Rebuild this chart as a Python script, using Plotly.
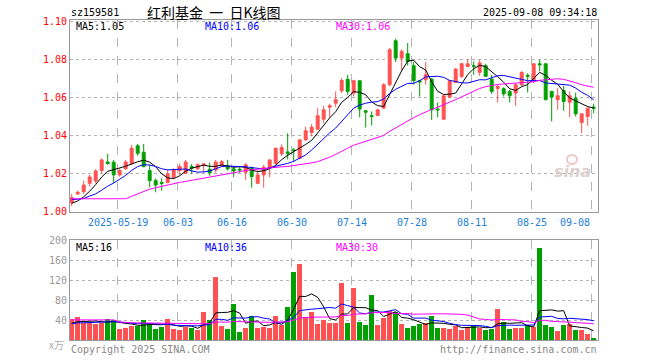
import numpy as np
import plotly.graph_objects as go

# ---------------- data ----------------
opens = [1.0047, 1.0093, 1.0105, 1.0149, 1.0161, 1.0216, 1.0261, 1.0260, 1.0193, 1.0226,
         1.0254, 1.0346, 1.0312, 1.0216, 1.0163, 1.0153, 1.0153, 1.0181, 1.0216, 1.0202,
         1.0237, 1.0226, 1.0244, 1.0223, 1.0219, 1.0244, 1.0242, 1.0225, 1.0223, 1.0207,
         1.0232, 1.0149, 1.0193, 1.0233, 1.0254, 1.0304, 1.0314, 1.0325, 1.0281, 1.0377,
         1.0416, 1.0433, 1.0486, 1.0549, 1.0570, 1.0635, 1.0696, 1.0623, 1.0688, 1.0530,
         1.0504, 1.0505, 1.0544, 1.0667, 1.0898, 1.0807, 1.0830, 1.0767, 1.0688, 1.0693,
         1.0696, 1.0539, 1.0486, 1.0602, 1.0679, 1.0711, 1.0763, 1.0767, 1.0732, 1.0767,
         1.0696, 1.0647, 1.0646, 1.0632, 1.0623, 1.0667, 1.0716, 1.0693, 1.0777, 1.0777,
         1.0632, 1.0588, 1.0637, 1.0575, 1.0596, 1.0468, 1.0500, 1.0549]
highs = [1.0093, 1.0110, 1.0163, 1.0193, 1.0223, 1.0280, 1.0304, 1.0272, 1.0228, 1.0272,
         1.0351, 1.0356, 1.0356, 1.0246, 1.0175, 1.0175, 1.0219, 1.0228, 1.0254, 1.0272,
         1.0251, 1.0254, 1.0253, 1.0258, 1.0272, 1.0272, 1.0272, 1.0237, 1.0237, 1.0254,
         1.0237, 1.0216, 1.0246, 1.0275, 1.0337, 1.0354, 1.0412, 1.0333, 1.0381, 1.0447,
         1.0461, 1.0544, 1.0556, 1.0567, 1.0632, 1.0702, 1.0719, 1.0693, 1.0688, 1.0535,
         1.0526, 1.0539, 1.0675, 1.0860, 1.0909, 1.0854, 1.0886, 1.0786, 1.0688, 1.0786,
         1.0702, 1.0574, 1.0612, 1.0688, 1.0754, 1.0781, 1.0802, 1.0789, 1.0798, 1.0777,
         1.0719, 1.0667, 1.0654, 1.0640, 1.0675, 1.0737, 1.0728, 1.0777, 1.0798, 1.0777,
         1.0632, 1.0649, 1.0661, 1.0632, 1.0626, 1.0514, 1.0544, 1.0567]
lows = [1.0030, 1.0088, 1.0093, 1.0132, 1.0149, 1.0202, 1.0246, 1.0149, 1.0184, 1.0219,
        1.0246, 1.0293, 1.0233, 1.0128, 1.0102, 1.0110, 1.0149, 1.0170, 1.0193, 1.0198,
        1.0198, 1.0219, 1.0205, 1.0188, 1.0205, 1.0237, 1.0216, 1.0181, 1.0205, 1.0167,
        1.0126, 1.0146, 1.0126, 1.0181, 1.0246, 1.0293, 1.0275, 1.0263, 1.0275, 1.0374,
        1.0395, 1.0430, 1.0465, 1.0496, 1.0549, 1.0623, 1.0614, 1.0605, 1.0496, 1.0442,
        1.0453, 1.0504, 1.0539, 1.0658, 1.0786, 1.0740, 1.0767, 1.0667, 1.0605, 1.0667,
        1.0482, 1.0496, 1.0482, 1.0596, 1.0675, 1.0702, 1.0763, 1.0719, 1.0714, 1.0711,
        1.0618, 1.0574, 1.0605, 1.0574, 1.0556, 1.0661, 1.0626, 1.0675, 1.0737, 1.0588,
        1.0474, 1.0535, 1.0530, 1.0496, 1.0500, 1.0412, 1.0451, 1.0518]
closes = [1.0074, 1.0102, 1.0140, 1.0182, 1.0214, 1.0272, 1.0253, 1.0193, 1.0216, 1.0261,
          1.0333, 1.0307, 1.0237, 1.0163, 1.0140, 1.0149, 1.0198, 1.0219, 1.0237, 1.0261,
          1.0228, 1.0246, 1.0251, 1.0205, 1.0261, 1.0263, 1.0225, 1.0214, 1.0219, 1.0246,
          1.0184, 1.0193, 1.0233, 1.0272, 1.0333, 1.0337, 1.0307, 1.0321, 1.0377, 1.0425,
          1.0444, 1.0504, 1.0535, 1.0556, 1.0588, 1.0689, 1.0632, 1.0688, 1.0539, 1.0523,
          1.0500, 1.0535, 1.0667, 1.0851, 1.0807, 1.0842, 1.0789, 1.0689, 1.0682, 1.0719,
          1.0535, 1.0535, 1.0609, 1.0688, 1.0749, 1.0777, 1.0777, 1.0763, 1.0781, 1.0711,
          1.0632, 1.0658, 1.0619, 1.0609, 1.0667, 1.0732, 1.0711, 1.0777, 1.0772, 1.0588,
          1.0602, 1.0609, 1.0579, 1.0609, 1.0514, 1.0514, 1.0544, 1.0544]
volumes = [42, 47, 34, 34, 33, 35, 42, 41, 23, 25, 29, 29, 41, 32, 23, 27, 43, 23, 21, 27,
           25, 21, 57, 41, 127, 29, 23, 73, 17, 25, 49, 25, 27, 25, 49, 31, 67, 137, 153, 47,
           57, 33, 41, 35, 35, 115, 35, 105, 37, 31, 91, 31, 45, 59, 57, 33, 25, 29, 33, 35,
           49, 25, 25, 23, 29, 21, 27, 29, 25, 21, 23, 63, 37, 23, 25, 25, 31, 27, 185, 31,
           27, 19, 31, 33, 21, 21, 13, 3]
# earlier sessions (off-chart), estimated so the moving averages start where the reference does
hist_closes = [1.010, 1.014, 1.018, 1.021, 1.027, 1.025, 1.019, 1.022, 1.026,
               0.995, 0.993, 0.986, 0.979, 0.9915, 0.9925, 0.997, 0.999,
               1.008, 1.010, 1.007, 1.009, 1.009, 1.005, 1.010, 1.008,
               1.004, 1.003, 1.0035, 1.004]
hist_volumes = [47, 34, 34, 33, 35, 42, 41, 150, 60, 37, 37, 48, 40, 31, 35, 50, 31, 29,
                35, 33, 29, 32, 32, 32, 32, 32, 32, 32, 30]

tick_index = [8, 18, 27, 37, 47, 57, 67, 77, 87]
tick_labels = ["2025-05-19", "06-03", "06-16", "06-30", "07-14", "07-28", "08-11", "08-25", "09-08"]
price_ticks = [1.00, 1.02, 1.04, 1.06, 1.08, 1.10]
vol_ticks = [40, 80, 120, 160, 200]
price_legend = ["MA5:1.05", "MA10:1.06", "MA30:1.06"]
vol_legend = ["MA5:16", "MA10:36", "MA30:30"]
ma_periods = [5, 10, 30]
ma_colors = ["#000000", "#0000ff", "#ff00ff"]

UP = "#ff5151"
DOWN = "#00a000"
MONO = "DejaVu Sans Mono"

n = len(closes)
x = list(range(n))


def moving_average(hist, vals, p):
    full = np.array(list(hist) + list(vals), dtype=float)
    out = np.convolve(full, np.ones(p) / p, mode="valid")
    return out[-len(vals):]


fig = go.Figure()

fig.add_trace(go.Candlestick(
    x=x, open=opens, high=highs, low=lows, close=closes,
    increasing=dict(line=dict(color=UP, width=1), fillcolor=UP),
    decreasing=dict(line=dict(color=DOWN, width=1), fillcolor=DOWN),
    whiskerwidth=0, xaxis="x", yaxis="y", hoverinfo="skip"))

for p, c in zip(ma_periods, ma_colors):
    fig.add_trace(go.Scatter(x=x, y=moving_average(hist_closes, closes, p), mode="lines",
                             line=dict(color=c, width=1), xaxis="x", yaxis="y",
                             hoverinfo="skip"))

bar_colors = [UP if c >= o else DOWN for o, c in zip(opens, closes)]
fig.add_trace(go.Bar(x=x, y=volumes, marker=dict(color=bar_colors, line=dict(width=0)),
                     width=0.83, xaxis="x2", yaxis="y2", hoverinfo="skip"))
for p, c in zip(ma_periods, ma_colors):
    fig.add_trace(go.Scatter(x=x, y=moving_average(hist_volumes, volumes, p), mode="lines",
                             line=dict(color=c, width=1), xaxis="x2", yaxis="y2",
                             hoverinfo="skip"))

xr = [-0.28, n - 0.28]
grid_x = [i - 0.33 for i in tick_index]
common_x = dict(range=xr, tickmode="array", tickvals=grid_x, showticklabels=False,
                showgrid=True, gridcolor="#b4b4b4", griddash="dash", gridwidth=1,
                showline=True, linecolor="#999999", linewidth=1, mirror=True,
                zeroline=False, ticks="", fixedrange=True)

fig.update_layout(
    width=660, height=360,
    margin=dict(l=70, r=62, t=20, b=20),
    paper_bgcolor="white", plot_bgcolor="white",
    showlegend=False, bargap=0, boxgap=0.3,
    xaxis=dict(**common_x, domain=[0, 1], anchor="y", rangeslider=dict(visible=False)),
    xaxis2=dict(**common_x, domain=[0, 1], anchor="y2"),
    yaxis=dict(domain=[0.401, 1.0], range=[1.0, 1.1007], tickmode="array",
               tickvals=price_ticks, ticktext=[f"{v:.2f}" for v in price_ticks],
               tickfont=dict(family=MONO, size=10, color="#ff0000"),
               showgrid=True, gridcolor="#b4b4b4", griddash="dot", gridwidth=1,
               showline=True, linecolor="#999999", mirror=True, zeroline=False,
               ticks="", fixedrange=True),
    yaxis2=dict(domain=[0, 0.3125], range=[0, 200], tickmode="array",
                tickvals=vol_ticks, ticktext=[str(v) for v in vol_ticks],
                tickfont=dict(family=MONO, size=10, color="#999999"),
                showgrid=True, gridcolor="#b4b4b4", griddash="dot", gridwidth=1,
                showline=True, linecolor="#999999", mirror=True, zeroline=False,
                ticks="", fixedrange=True),
)


def px(xp):
    return (xp - 70) / 528


def py(yp):
    return (340 - yp) / 320


ann = []


def text(t, xp, yp, anchor="left", color="#000000", size=10, family=MONO, **kw):
    ann.append(dict(text=t, x=px(xp), y=py(yp), xref="paper", yref="paper",
                    xanchor=anchor, yanchor="middle", showarrow=False,
                    font=dict(family=family, size=size, color=color), **kw))


NB = "\u00a0"
text("sz159581", 69, 12)
text("红利基金" + NB * 2 + "一" + NB * 2 + "日K线图", 214, 12, anchor="center", size=14,
     family="Noto Sans CJK SC")
text("2025-09-08 09:34:18", 599, 12, anchor="right")
for t, xp, c in zip(price_legend, [74, 203, 334], ma_colors):
    text(t, xp, 27, color=c)
for t, xp, c in zip(vol_legend, [74, 203, 334], ma_colors):
    text(t, xp, 247, color=c)
text("x万", 66, 344, anchor="right", color="#aaaaaa", size=10,
     family="Noto Sans CJK SC")
text("Copyright 2025 SINA.COM", 69, 349, color="#888888")
text("http://finance.sina.com.cn", 599, 349, anchor="right", color="#888888")
text("<b><i>sina</i></b>", 572, 171, anchor="center", color="#ddd0d0", size=16,
     family="DejaVu Sans")

for i, lab in zip(tick_index, tick_labels):
    ann.append(dict(text=lab, x=i - 0.33, y=py(222), xref="x", yref="paper",
                    xanchor="right" if i == tick_index[-1] else "center",
                    yanchor="middle", showarrow=False,
                    font=dict(family=MONO, size=10, color="#1e7fd8")))

fig.update_layout(annotations=ann)
fig.add_shape(type="circle", xref="paper", yref="paper",
              x0=px(567), x1=px(577), y0=py(164), y1=py(155),
              line=dict(color="#ecc8c8", width=2))

fig.write_html("out.html", config={"displayModeBar": False, "displaylogo": False},
               post_script="document.body.style.margin='0';")
